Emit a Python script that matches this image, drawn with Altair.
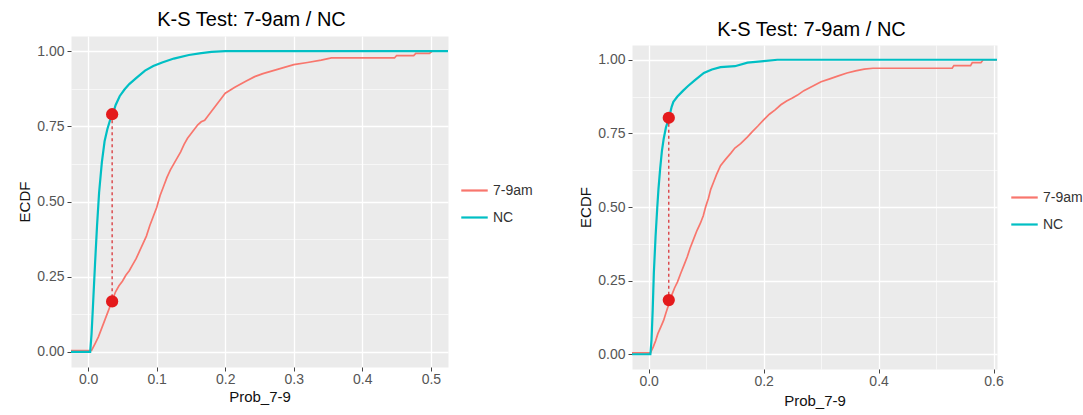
import altair as alt
import pandas as pd

TITLE = "K-S Test: 7-9am / NC"
SERIES = ["7-9am", "NC"]
COLORS = ["#F8766D", "#00BFC4"]

# ---- left panel data (ECDF points) ----
L_nc_x = [-1, 0.003, 0.005, 0.007, 0.010, 0.013, 0.016, 0.020, 0.024, 0.028, 0.032,
          0.036, 0.040, 0.046, 0.053, 0.060, 0.070, 0.083, 0.095, 0.108, 0.125,
          0.147, 0.165, 0.180, 0.200, 2]
L_nc_y = [0, 0.0, 0.06, 0.15, 0.29, 0.42, 0.53, 0.63, 0.70, 0.74, 0.77,
          0.79, 0.82, 0.85, 0.872, 0.89, 0.91, 0.935, 0.95, 0.962, 0.975,
          0.987, 0.993, 0.997, 1.0, 1.0]
L_am_x = [-1, 0.005, 0.010, 0.015, 0.020, 0.025, 0.030, 0.035, 0.040, 0.045, 0.050,
          0.055, 0.060, 0.065, 0.070, 0.075, 0.080, 0.085, 0.090, 0.095, 0.100,
          0.105, 0.110, 0.115, 0.120, 0.125, 0.130, 0.135, 0.140, 0.145, 0.150,
          0.155, 0.160, 0.165, 0.170, 0.175, 0.180, 0.185, 0.190, 0.195, 0.200,
          0.207, 0.214, 0.222, 0.230, 0.243, 0.255, 0.270, 0.285, 0.300, 0.320,
          0.340, 0.355, 0.447, 0.450, 0.475, 0.478, 0.498, 0.502, 2]
L_am_y = [0, 0.005, 0.027, 0.05, 0.08, 0.11, 0.14, 0.17, 0.20, 0.22, 0.235,
          0.255, 0.27, 0.29, 0.31, 0.335, 0.36, 0.385, 0.42, 0.45, 0.48,
          0.52, 0.55, 0.58, 0.605, 0.625, 0.645, 0.665, 0.69, 0.71, 0.725,
          0.74, 0.755, 0.765, 0.77, 0.785, 0.80, 0.815, 0.83, 0.845, 0.86,
          0.87, 0.88, 0.89, 0.90, 0.915, 0.925, 0.935, 0.945, 0.955, 0.962,
          0.97, 0.977, 0.977, 0.985, 0.985, 0.992, 0.992, 1.0, 1.0]
L_pt_x = [0.035, 0.035]
L_pt_y = [0.79, 0.168]

# ---- right panel data ----
R_nc_x = [-1, 0.003, 0.005, 0.007, 0.009, 0.012, 0.015, 0.017, 0.020, 0.023, 0.026,
          0.030, 0.035, 0.040, 0.043, 0.050, 0.060, 0.068, 0.080, 0.096, 0.110,
          0.125, 0.150, 0.172, 0.200, 0.224, 2]
R_nc_y = [0, 0.0, 0.05, 0.15, 0.276, 0.40, 0.50, 0.56, 0.63, 0.69, 0.73,
          0.77, 0.80, 0.84, 0.857, 0.875, 0.895, 0.91, 0.93, 0.955, 0.967,
          0.975, 0.978, 0.99, 0.995, 1.0, 1.0]
R_am_x = [-1, 0.003, 0.008, 0.012, 0.016, 0.021, 0.026, 0.030, 0.035, 0.040, 0.045,
          0.050, 0.056, 0.062, 0.067, 0.072, 0.078, 0.084, 0.090, 0.095, 0.099,
          0.104, 0.108, 0.113, 0.118, 0.125, 0.133, 0.143, 0.150, 0.160, 0.172,
          0.180, 0.190, 0.200, 0.210, 0.220, 0.230, 0.240, 0.250, 0.259, 0.270,
          0.280, 0.290, 0.300, 0.315, 0.330, 0.345, 0.360, 0.375, 0.390, 0.528,
          0.531, 0.560, 0.563, 0.578, 0.582, 2]
R_am_y = [0, 0.005, 0.025, 0.045, 0.07, 0.092, 0.115, 0.14, 0.17, 0.20, 0.225,
          0.245, 0.276, 0.305, 0.33, 0.36, 0.39, 0.42, 0.445, 0.47, 0.50,
          0.53, 0.56, 0.585, 0.61, 0.64, 0.66, 0.683, 0.70, 0.715, 0.738,
          0.755, 0.775, 0.796, 0.815, 0.83, 0.847, 0.86, 0.87, 0.88, 0.895,
          0.905, 0.915, 0.925, 0.935, 0.945, 0.955, 0.962, 0.968, 0.971, 0.971,
          0.98, 0.98, 0.99, 0.99, 1.0, 1.0]
R_pt_x = [0.035, 0.035]
R_pt_y = [0.803, 0.184]

Y_TICKS = [0, 0.125, 0.25, 0.375, 0.5, 0.625, 0.75, 0.875, 1.0]
L_X_TICKS = [0, 0.05, 0.1, 0.15, 0.2, 0.25, 0.3, 0.35, 0.4, 0.45, 0.5]
R_X_TICKS = [0, 0.1, 0.2, 0.3, 0.4, 0.5, 0.6]

FONT = "Liberation Sans"
PANEL_BG = alt.ViewBackground(fill="#EBEBEB", stroke="transparent")
NO_BG = alt.ViewBackground(fill="transparent", stroke="transparent")


def make_axis(values, minor_test, fmt, title, lpad, tpad):
    return alt.Axis(
        values=values,
        title=title,
        domain=False,
        labelExpr=f"({minor_test}) ? '' : format(datum.value, '{fmt}')",
        tickColor={"condition": {"test": minor_test, "value": "transparent"}, "value": "#444444"},
        gridWidth={"condition": {"test": minor_test, "value": 0.6}, "value": 1.3},
        gridColor="white",
        tickSize=4,
        labelColor="#555555",
        labelFontSize=14,
        labelFont=FONT,
        titleFont=FONT,
        titleFontSize=15,
        titleFontWeight="normal",
        titleColor="#111111",
        labelPadding=lpad,
        titlePadding=tpad,
    )


def panel(nc_x, nc_y, am_x, am_y, pt_x, pt_y, xdom, xticks, xminor, w, h, lx, ly,
          xlpad, xtpad):
    am = pd.DataFrame({"x": am_x, "y": am_y, "s": SERIES[0]})
    nc = pd.DataFrame({"x": nc_x, "y": nc_y, "s": SERIES[1]})
    pts = pd.DataFrame({"x": pt_x, "y": pt_y})
    seg = pd.DataFrame({"x": [pt_x[0]], "y": [pt_y[0]], "y2": [pt_y[1]]})

    xenc = alt.X("x:Q", scale=alt.Scale(domain=xdom, nice=False, zero=False),
                 axis=make_axis(xticks, xminor, ".1f", "Prob_7-9", xlpad, xtpad))
    yenc = alt.Y("y:Q", scale=alt.Scale(domain=[-0.05, 1.05], nice=False),
                 axis=make_axis(Y_TICKS, "round(datum.value*8)%2==1", ".2f", "ECDF", 3, 4))
    color = alt.Color("s:N", scale=alt.Scale(domain=SERIES, range=COLORS),
                      legend=alt.Legend(title=None, orient="none", legendX=lx, legendY=ly,
                                        symbolType="stroke", symbolStrokeWidth=2.2,
                                        symbolSize=700, labelFontSize=14, labelFont=FONT,
                                        labelColor="#333333", rowPadding=5, labelOffset=4))

    l_am = alt.Chart(am).mark_line(strokeWidth=1.7, clip=True).encode(
        x=xenc, y=yenc, color=color)
    l_nc = alt.Chart(nc).mark_line(strokeWidth=2.2, clip=True).encode(
        x=xenc, y=yenc, color=color)
    l_seg = alt.Chart(seg).mark_rule(color="#D8262A", strokeDash=[3, 3], strokeWidth=1.2).encode(
        x="x:Q", y="y:Q", y2="y2:Q")
    l_pts = alt.Chart(pts).mark_circle(size=150, color="#E41A1C", opacity=1).encode(
        x="x:Q", y="y:Q")
    return alt.layer(l_am, l_nc, l_seg, l_pts).properties(width=w, height=h, view=PANEL_BG)


def title_view(w, h, tx, ty):
    return alt.Chart(pd.DataFrame({"t": [TITLE]})).mark_text(
        fontSize=20, font=FONT, color="black", align="center", baseline="middle"
    ).encode(text="t:N", x=alt.value(tx), y=alt.value(ty)).properties(
        width=w, height=h, view=NO_BG)


LW, LH = 377, 331
RW, RH = 365, 324

left = panel(L_nc_x, L_nc_y, L_am_x, L_am_y, L_pt_x, L_pt_y, [-0.025, 0.525],
             L_X_TICKS, "round(datum.value*20)%2==1", LW, LH, 389, 173, 1, 3)
right = panel(R_nc_x, R_nc_y, R_am_x, R_am_y, R_pt_x, R_pt_y, [-0.029, 0.606],
              R_X_TICKS, "round(datum.value*10)%2==1", RW, RH, 378, 180, 1, 5)

left_col = alt.vconcat(title_view(LW, 31, LW / 2 - 8, 17), left, spacing=0)
right_col = alt.vconcat(title_view(RW, 40, RW / 2 - 3, 27), right, spacing=0)

chart = alt.hconcat(left_col, right_col, spacing=45).resolve_scale(
    color="independent").resolve_legend(color="independent").properties(
    padding={"left": 17, "top": 2, "right": 0, "bottom": 2}
)

chart.save("out.html", embed_options={"renderer": "svg", "actions": False})
